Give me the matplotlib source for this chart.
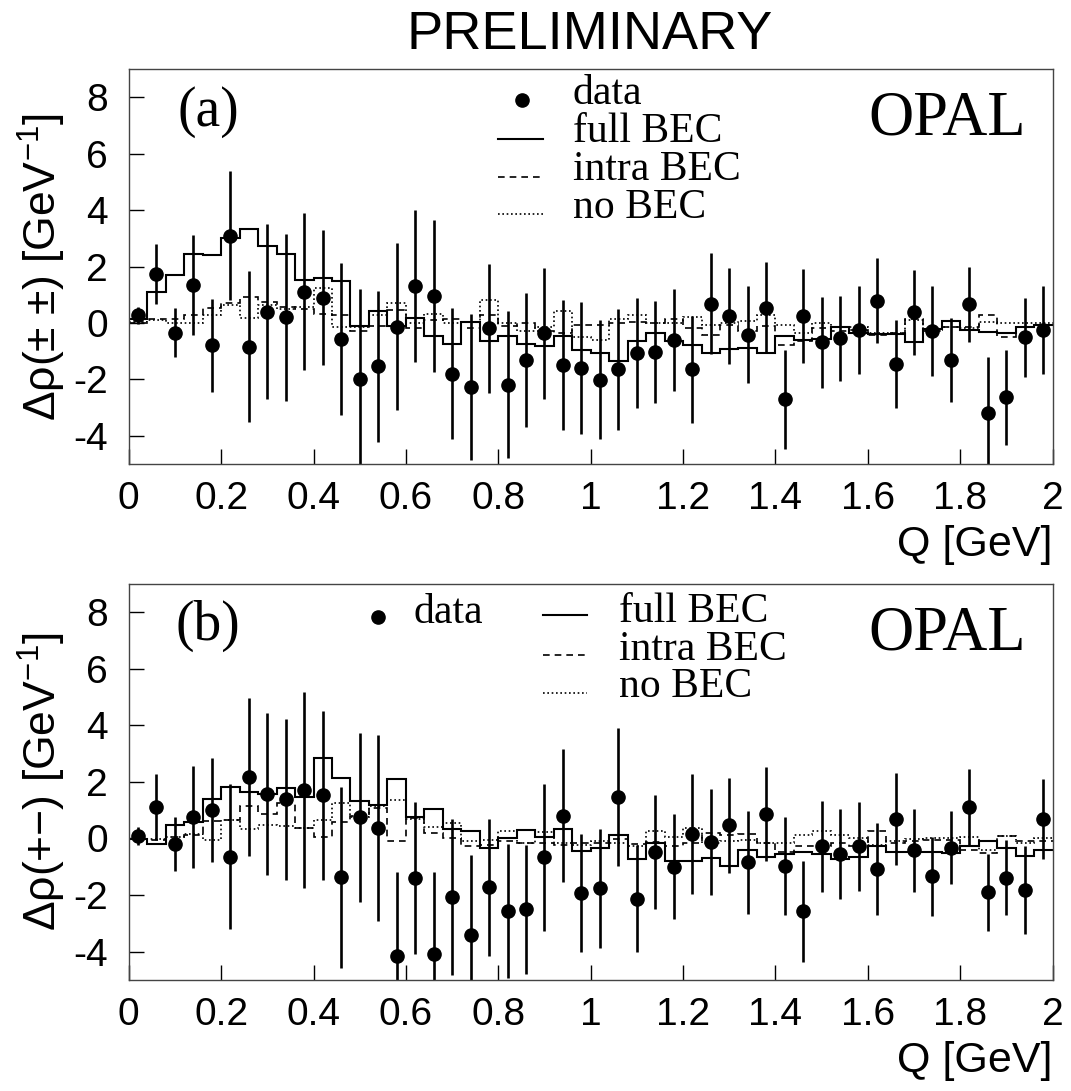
import numpy as np
import matplotlib
matplotlib.use('Agg')
import matplotlib.pyplot as plt

# OPAL BEC plot, delta rho for like-sign (a) and unlike-sign (b) pairs

q_edges = np.linspace(0, 2, 51)
q_centres = 0.5 * (q_edges[:-1] + q_edges[1:])

# panel (a): like-sign pairs
data_a = [0.28, 1.73, -0.34, 1.34, -0.79, 3.10, -0.84, 0.40, 0.20, 1.11,
          0.90, -0.57, -1.99, -1.54, -0.13, 1.31, 0.95, -1.80, -2.27, -0.19,
          -2.19, -1.31, -0.37, -1.48, -1.60, -2.01, -1.64, -1.07, -1.02, -0.60,
          -1.64, 0.69, 0.25, -0.42, 0.55, -2.70, 0.25, -0.69, -0.54, -0.25,
          0.79, -1.46, 0.38, -0.28, -1.31, 0.66, -3.19, -2.63, -0.51, -0.25]
err_a = [0.30, 1.07, 0.87, 1.77, 1.65, 2.30, 2.67, 3.10, 2.95, 2.78,
         2.40, 2.70, 3.20, 2.68, 2.97, 2.70, 2.70, 2.33, 2.60, 2.30,
         2.60, 2.38, 2.33, 2.30, 2.35, 2.10, 2.15, 1.95, 1.80, 1.80,
         1.90, 1.80, 1.70, 1.72, 1.60, 1.76, 1.67, 1.63, 1.50, 1.57,
         1.50, 1.57, 1.50, 1.60, 1.50, 1.33, 1.97, 1.68, 1.40, 1.55]
full_a = [0.15, 1.10, 1.70, 2.45, 2.40, 3.03, 3.35, 2.73, 2.45, 1.54,
          1.60, 1.50, -0.10, 0.44, -0.10, 0.17, -0.46, -0.73, 0.05, -0.65,
          -0.47, -0.75, -0.80, -0.46, -0.97, -1.06, -1.35, -0.65, -0.37, -0.63,
          -0.77, -1.07, -0.93, -0.88, -1.07, -0.46, -0.60, -0.56, -0.15, -0.35,
          -0.39, -0.40, -0.69, -0.20, 0.08, -0.24, -0.32, -0.35, -0.14, -0.07]
intra_a = [0.00, 0.13, 0.16, 0.28, 0.52, 0.72, 0.93, 0.75, 0.58, 0.48,
           0.32, 0.28, -0.27, -0.10, 0.46, -0.19, 0.10, 0.13, -0.19, 0.28,
           -0.10, 0.00, -0.30, -0.35, -0.07, -0.07, 0.00, 0.05, 0.00, 0.13,
           -0.19, -0.42, -0.07, -0.27, -0.10, -0.78, -0.62, -0.19, -0.30, -0.25,
           -0.42, -0.35, 0.16, -0.30, -0.15, -0.13, 0.28, -0.48, -0.13, -0.07]
nobec_a = [0.05, 0.10, 0.00, 0.00, 0.28, 0.64, 0.19, 0.64, 0.48, 0.58,
           1.25, -0.13, -0.13, 0.28, 0.72, 0.00, 0.32, 0.00, 0.05, 0.81,
           0.00, -0.30, -0.13, 0.44, -0.48, -0.60, 0.16, 0.28, 0.00, 0.00,
           0.22, -0.07, 0.00, 0.08, 0.28, -0.07, -0.36, 0.00, -0.13, -0.13,
           -0.36, -0.36, 0.10, -0.25, -0.13, -0.18, 0.05, 0.00, 0.00, 0.00]

# panel (b): unlike-sign pairs
data_b = [0.09, 1.11, -0.20, 0.75, 1.01, -0.64, 2.17, 1.57, 1.39, 1.72,
          1.52, -1.37, 0.75, 0.37, -4.15, -1.40, -4.09, -2.07, -3.40, -1.73,
          -2.56, -2.50, -0.66, 0.81, -1.93, -1.76, 1.46, -2.13, -0.48, -0.99,
          0.16, -0.11, 0.46, -0.84, 0.86, -0.97, -2.58, -0.28, -0.55, -0.28,
          -1.08, 0.68, -0.42, -1.34, -0.32, 1.11, -1.90, -1.38, -1.81, 0.69]
err_b = [0.33, 1.16, 0.96, 1.80, 1.85, 2.55, 2.80, 2.87, 2.84, 3.47,
         2.97, 3.20, 2.98, 3.30, 2.95, 2.68, 2.90, 2.75, 2.80, 2.42,
         2.38, 2.28, 2.60, 2.36, 2.10, 2.10, 2.43, 1.90, 2.00, 1.86,
         2.12, 1.87, 1.68, 1.82, 1.65, 1.72, 1.77, 1.60, 1.58, 1.56,
         1.64, 1.62, 1.48, 1.39, 1.30, 1.34, 1.36, 1.33, 1.55, 1.40]
full_b = [-0.02, -0.19, 0.48, 0.60, 1.40, 1.81, 1.66, 1.57, 1.80, 1.48,
          2.84, 2.15, 1.34, 1.20, 2.10, 0.75, 1.04, 0.34, 0.28, -0.34,
          0.03, 0.30, 0.07, 0.33, -0.45, -0.35, 0.14, -0.74, -0.17, -0.80,
          -0.80, -0.69, -0.97, -0.42, -0.64, -0.54, -0.46, -0.54, -0.73, -0.66,
          -0.28, -0.46, -0.46, -0.46, -0.52, -0.28, -0.10, -0.34, -0.61, -0.42]
intra_b = [-0.02, -0.05, 0.07, 0.13, 0.62, 0.66, 1.15, 0.87, 1.27, 0.37,
           0.07, 0.60, 0.78, 1.07, -0.10, 0.72, 0.19, 0.00, -0.26, -0.22,
           -0.10, -0.16, -0.16, -0.22, -0.16, -0.16, -0.02, -0.19, -0.14, -0.28,
           -0.16, 0.21, 0.13, 0.16, -0.16, -0.49, -0.26, -0.28, -0.16, -0.28,
           0.28, -0.16, -0.10, -0.07, -0.05, -0.40, -0.52, 0.09, -0.10, -0.10]
nobec_b = [-0.02, -0.02, 0.07, 0.15, -0.05, 0.66, 0.33, 0.48, 0.45, 0.37,
           0.64, 1.25, 0.75, 1.15, 1.37, 0.68, 0.42, 0.56, -0.10, -0.05,
           0.28, -0.16, 0.22, -0.16, -0.22, -0.10, -0.16, -0.26, 0.25, 0.07,
           0.37, -0.16, -0.10, -0.05, -0.16, -0.16, 0.13, 0.28, 0.13, 0.00,
           -0.22, -0.10, -0.02, 0.00, 0.00, 0.07, -0.42, 0.09, -0.16, 0.00]

x_ticks = [0, 0.2, 0.4, 0.6, 0.8, 1, 1.2, 1.4, 1.6, 1.8, 2]
y_ticks = [-4, -2, 0, 2, 4, 6, 8]
legend_labels = ['data', 'full BEC', 'intra BEC', 'no BEC']

plt.rcParams['font.family'] = ['Liberation Sans', 'DejaVu Sans']
plt.rcParams['mathtext.fontset'] = 'custom'
plt.rcParams['mathtext.rm'] = 'Liberation Sans'
plt.rcParams['mathtext.it'] = 'Liberation Sans:italic'
plt.rcParams['axes.unicode_minus'] = False

SERIF = ['Liberation Serif', 'DejaVu Serif']
DASH = (0, (4, 3))
DOT = (0, (1, 1.6))

fig = plt.figure(figsize=(10.71, 10.91), dpi=100)
ax_a = fig.add_axes([0.1202, 0.5747, 0.8626, 0.3618])
ax_b = fig.add_axes([0.1202, 0.1018, 0.8626, 0.3630])


def draw_panel(ax, data, err, full, intra, nobec, tag, ylab):
    ax.stairs(full, q_edges, color='black', lw=1.5, baseline=None)
    ax.stairs(intra, q_edges, color='black', lw=1.2, ls=DASH, baseline=None)
    ax.stairs(nobec, q_edges, color='black', lw=1.2, ls=DOT, baseline=None)
    ax.errorbar(q_centres, data, yerr=err, fmt='o', color='black', ms=9.5,
                elinewidth=1.9, capsize=0)
    ax.set_xlim(0, 2)
    ax.set_ylim(-5, 9)
    ax.set_xticks(x_ticks)
    ax.set_xticklabels(['%g' % t for t in x_ticks])
    ax.set_yticks(y_ticks)
    ax.tick_params(direction='in', length=11, width=1, labelsize=28,
                   top=False, right=False)
    ax.tick_params(axis='y', pad=15)
    ax.tick_params(axis='x', pad=12)
    for s in ax.spines.values():
        s.set_linewidth(1.0)
        s.set_color('#444444')
    ax.text(0.086, 0.893, tag, transform=ax.transAxes, ha='center',
            va='center', fontsize=40, family=SERIF)
    ax.text(0.8855, 0.873, 'OPAL', transform=ax.transAxes, ha='center',
            va='center', fontsize=45, family=SERIF)
    ax.text(1.0, -0.205, 'Q [GeV]', transform=ax.transAxes, ha='right',
            va='center', fontsize=31)
    ax.text(-0.094, 0.5, ylab, transform=ax.transAxes, ha='center',
            va='center', rotation=90, fontsize=32)


draw_panel(ax_a, data_a, err_a, full_a, intra_a, nobec_a, '(a)',
           'Δρ(± ±) [GeV$^{-1}$]')
draw_panel(ax_b, data_b, err_b, full_b, intra_b, nobec_b, '(b)',
           'Δρ(+−) [GeV$^{-1}$]')

# legend (a): one column
tr = ax_a.transAxes
ax_a.plot([0.4254], [0.922], 'o', color='black', ms=9.5, transform=tr)
ax_a.plot([0.3997, 0.4484], [0.8234, 0.8234], color='black', lw=1.5, transform=tr)
ax_a.plot([0.3997, 0.4484], [0.728, 0.728], color='black', lw=1.2, ls=DASH, transform=tr)
ax_a.plot([0.3997, 0.4484], [0.6334, 0.6334], color='black', lw=1.2, ls=DOT, transform=tr)
for lab, yy in zip(legend_labels, [0.912, 0.8166, 0.7195, 0.6225]):
    ax_a.text(0.4806, yy, lab, transform=tr, ha='left', va='baseline',
              fontsize=30, family=SERIF)

# legend (b): data apart, lines in a column
tr = ax_b.transAxes
ax_b.plot([0.270], [0.9174], 'o', color='black', ms=9.5, transform=tr)
ax_b.text(0.308, 0.9015, legend_labels[0], transform=tr, ha='left',
          va='baseline', fontsize=30, family=SERIF)
ax_b.plot([0.4488, 0.4958], [0.9217, 0.9217], color='black', lw=1.5, transform=tr)
ax_b.plot([0.4488, 0.4958], [0.8207, 0.8207], color='black', lw=1.2, ls=DASH, transform=tr)
ax_b.plot([0.4488, 0.4958], [0.724, 0.724], color='black', lw=1.2, ls=DOT, transform=tr)
for lab, yy in zip(legend_labels[1:], [0.905, 0.808, 0.7154]):
    ax_b.text(0.531, yy, lab, transform=tr, ha='left', va='baseline',
              fontsize=30, family=SERIF)

fig.text(0.551, 0.968, 'PRELIMINARY', ha='center', va='center', fontsize=39)

fig.savefig('out.png', dpi=100)
